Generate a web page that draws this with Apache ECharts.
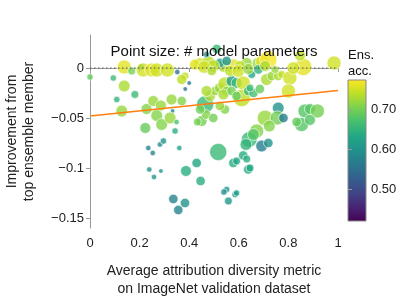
<!DOCTYPE html>
<html><head><meta charset="utf-8">
<script src="https://cdn.jsdelivr.net/npm/echarts@6/dist/echarts.min.js"></script>
<style>html,body{margin:0;padding:0;background:#fff}#c{width:415px;height:297px}</style>
</head><body><div id="c"></div>
<script>
// Data
const divX = [0.000,0.138,0.168,0.206,0.215,0.249,0.269,0.312,0.352,0.383,0.370,0.384,0.400,0.441,0.477,0.511,0.470,0.540,0.578,0.524,0.551,0.632,0.679,0.696,0.719,0.652,0.679,0.860,0.847,0.984,0.605,0.497,
0.094,0.138,0.181,0.108,0.128,0.228,0.255,0.286,0.329,0.370,0.333,0.269,0.289,0.223,0.323,0.349,0.343,0.235,0.253,0.282,0.296,0.360,0.239,0.258,0.286,0.387,0.430,0.446,0.336,0.383,0.356,
0.464,0.450,0.433,0.468,0.497,0.544,0.484,0.504,0.524,0.544,0.571,0.591,0.618,0.612,0.551,0.517,0.578,0.591,0.638,0.645,0.551,0.540,0.585,0.558,0.591,0.638,0.524,
0.659,0.685,0.712,0.733,0.759,0.773,0.806,0.800,0.759,0.706,0.755,0.780,0.672,0.642,0.629,0.692,0.719,0.618,0.632,0.867,0.887,0.917,0.853,0.887,0.833,0.723,0.659,
0.423,0.460,0.491,0.565,0.598,0.638,0.706,0.746,0.820,0.470,0.538,0.571,0.591,0.645,0.444];
const impY = [-0.009,0.001,-0.003,0.001,-0.002,-0.002,-0.002,-0.002,-0.004,-0.008,-0.0115,-0.021,-0.015,0.004,0.005,0.019,0.0135,0.002,0.002,0.005,0.007,0.005,0.0045,0.006,0.0085,-0.0065,-0.0015,0.001,0.0125,0.005,0.002,0.002,
-0.010,-0.018,-0.0265,-0.0315,-0.043,-0.041,-0.033,-0.0375,-0.0315,-0.033,-0.043,-0.0475,-0.0565,-0.060,-0.050,-0.054,-0.063,-0.080,-0.085,-0.0765,-0.073,-0.080,-0.1015,-0.109,-0.103,-0.103,-0.095,-0.113,-0.131,-0.135,-0.142,
-0.0365,-0.053,-0.054,-0.0465,-0.050,-0.0415,-0.028,-0.023,-0.020,-0.016,-0.013,-0.015,-0.015,-0.030,-0.023,-0.084,-0.095,-0.093,-0.1015,-0.100,-0.1215,-0.124,-0.1265,-0.133,-0.125,-0.023,-0.038,
-0.025,-0.021,-0.0115,-0.008,-0.008,-0.0065,-0.010,-0.023,-0.040,-0.050,-0.050,-0.050,-0.063,-0.0715,-0.0765,-0.078,-0.075,-0.0875,-0.091,-0.043,-0.041,-0.043,-0.0565,-0.052,-0.054,-0.058,-0.0665,
0.0035,0.001,-0.003,-0.003,-0.003,-0.001,0.002,-0.0015,0.000,-0.023,-0.0265,-0.023,-0.028,-0.020,-0.0415];
const ensAcc = [0.69,0.76,0.70,0.63,0.75,0.76,0.75,0.75,0.55,0.74,0.74,0.55,0.56,0.75,0.74,0.66,0.60,0.73,0.76,0.62,0.60,0.72,0.72,0.76,0.77,0.63,0.65,0.76,0.74,0.75,0.74,0.74,
0.66,0.73,0.66,0.65,0.72,0.71,0.72,0.72,0.72,0.71,0.58,0.71,0.71,0.69,0.72,0.67,0.64,0.58,0.58,0.59,0.60,0.62,0.60,0.61,0.60,0.64,0.63,0.64,0.58,0.60,0.58,
0.66,0.70,0.70,0.71,0.70,0.71,0.73,0.72,0.72,0.74,0.62,0.66,0.75,0.74,0.71,0.66,0.64,0.63,0.64,0.63,0.60,0.59,0.60,0.61,0.62,0.66,0.72,
0.67,0.69,0.73,0.72,0.73,0.74,0.75,0.75,0.60,0.72,0.70,0.57,0.71,0.66,0.65,0.57,0.60,0.64,0.64,0.68,0.68,0.70,0.68,0.68,0.69,0.71,0.68,
0.76,0.75,0.73,0.74,0.75,0.72,0.73,0.72,0.75,0.73,0.73,0.70,0.69,0.66,0.70];
const paramsM = [15,74,23,15,74,74,74,74,11,23,38,8,8,58,74,33,15,58,74,33,33,44,58,74,110,23,33,110,44,74,44,58,
15,51,23,15,51,44,44,44,44,33,8,51,51,44,51,11,15,11,11,11,15,11,11,11,8,44,33,33,33,33,33,
110,44,23,33,33,33,44,33,44,74,44,44,74,110,33,110,33,23,33,23,15,15,15,23,15,33,33,
33,33,51,33,33,23,74,74,51,91,74,33,74,91,51,51,33,33,23,74,44,74,74,44,33,51,51,
44,58,33,44,58,44,44,23,58,44,44,33,33,23,33];
const trendX = [0, 1];
const trendY = [-0.048, -0.0225];
const zeroX = [0, 1];
const zeroY = [0, 0];
const yTicks = [-0.15, -0.1, -0.05, 0];
const xTicks = [0, 0.2, 0.4, 0.6, 0.8, 1];
const cbTicks = [0.5, 0.6, 0.7];
const accMin = 0.42, accMax = 0.775;

const viridis = ['#440154','#482475','#414487','#355f8d','#2a788e','#21918c','#22a884','#44bf70','#7ad151','#bddf26','#fde725'];
const FONT = 'Liberation Sans';
const fmtMinus = v => String(+v.toFixed(2)).replace('-', '\u2212');

const pts = divX.map((x, i) => [x, impY[i], ensAcc[i], paramsM[i]]);
const chart = echarts.init(document.getElementById('c'), null, {renderer: 'canvas'});
chart.setOption({
  animation: false,
  textStyle: {fontFamily: FONT},
  grid: [
    {left: 90, right: 77, top: 35, bottom: 69, outerBoundsMode: 'none', containLabel: false},
    {left: 348, top: 80, width: 18, height: 141, outerBoundsMode: 'none', containLabel: false,
     show: true, borderColor: '#888', borderWidth: 1,
     backgroundColor: new echarts.graphic.LinearGradient(0, 1, 0, 0,
        viridis.map((c, i) => ({offset: i / (viridis.length - 1), color: c})))}
  ],
  xAxis: [
    {type: 'value', min: 0, max: 1, interval: 0.2, gridIndex: 0,
     name: 'Average attribution diversity metric\non ImageNet validation dataset',
     nameLocation: 'middle', nameGap: 34,
     nameTextStyle: {fontSize: 14, color: '#222', lineHeight: 18, fontFamily: FONT},
     axisLine: {lineStyle: {color: '#999'}}, axisTick: {show: true, length: 4, lineStyle: {color: '#999'}},
     axisLabel: {fontSize: 13, color: '#222', margin: 9, formatter: v => String(v), fontFamily: FONT},
     splitLine: {show: false}},
    {type: 'value', gridIndex: 1, show: false, min: 0, max: 1}
  ],
  yAxis: [
    {type: 'value', min: -0.16, max: 0.033, gridIndex: 0,
     name: 'Improvement from\ntop ensemble member', nameLocation: 'middle', nameGap: 52, nameRotate: 90,
     nameTextStyle: {fontSize: 14, color: '#222', lineHeight: 17, fontFamily: FONT},
     axisLine: {show: true, lineStyle: {color: '#999'}},
     axisTick: {show: true, length: 4, lineStyle: {color: '#999'}, customValues: yTicks},
     axisLabel: {fontSize: 13, color: '#222', margin: 6, customValues: yTicks, formatter: fmtMinus, fontFamily: FONT},
     splitLine: {show: false}},
    {type: 'value', gridIndex: 1, position: 'right', min: accMin, max: accMax,
     axisLine: {show: false},
     axisTick: {show: true, length: 4, lineStyle: {color: '#999'}, customValues: cbTicks},
     axisLabel: {fontSize: 13, color: '#222', margin: 5, customValues: cbTicks, formatter: v => v.toFixed(2), fontFamily: FONT},
     splitLine: {show: false}}
  ],
  visualMap: {type: 'continuous', show: false, seriesIndex: 0, dimension: 2, min: accMin, max: accMax,
    inRange: {color: viridis}},
  graphic: [
    {type: 'text', x: 214, y: 52, z: 100,
     style: {text: 'Point size: # model parameters', fontSize: 15, fontFamily: FONT, fill: '#111', align: 'center', verticalAlign: 'middle'}},
    {type: 'text', x: 348, y: 47, z: 100,
     style: {text: 'Ens.\nacc.', fontSize: 13, lineHeight: 16, fontFamily: FONT, fill: '#111', align: 'left', verticalAlign: 'top'}}
  ],
  series: [
    {type: 'scatter', xAxisIndex: 0, yAxisIndex: 0, data: pts, z: 2,
     symbolSize: d => 1.65 * Math.sqrt(d[3]),
     itemStyle: {opacity: 0.8, borderColor: '#fff', borderWidth: 0.8}},
    {type: 'line', xAxisIndex: 0, yAxisIndex: 0, data: zeroX.map((x, i) => [x, zeroY[i]]), z: 5,
     symbol: 'none', lineStyle: {color: '#555', width: 1.2, type: [1.5, 2.5]}},
    {type: 'line', xAxisIndex: 0, yAxisIndex: 0, data: trendX.map((x, i) => [x, trendY[i]]), z: 5,
     symbol: 'none', lineStyle: {color: '#ff7f0e', width: 1.5}},
    {type: 'scatter', xAxisIndex: 1, yAxisIndex: 1, data: []}
  ]
});
</script></body></html>
